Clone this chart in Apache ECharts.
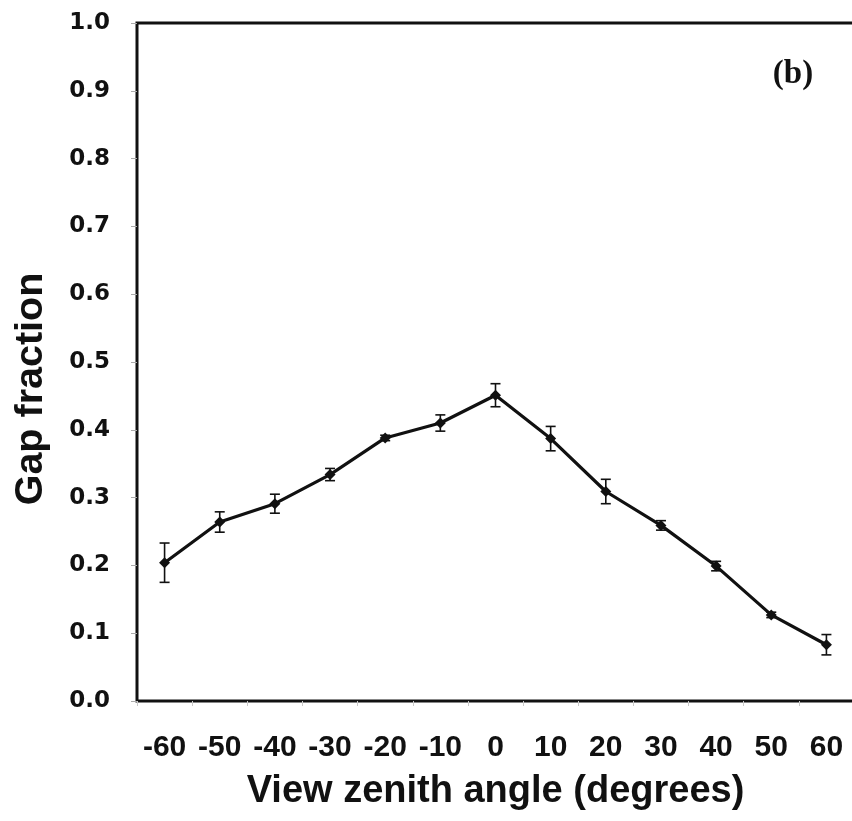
<!DOCTYPE html>
<html>
<head>
<meta charset="utf-8">
<script src="https://cdn.jsdelivr.net/npm/echarts@6/dist/echarts.min.js"></script>
<style>
  html, body { margin: 0; padding: 0; background: #fff; }
  #chart { width: 852px; height: 821px; }
</style>
</head>
<body>
<div id="chart"></div>
<script>
// View zenith angles (degrees)
const angles = [-60, -50, -40, -30, -20, -10, 0, 10, 20, 30, 40, 50, 60];
// Mean gap fraction at each angle
const gapFraction = [0.204, 0.264, 0.291, 0.334, 0.388, 0.410, 0.451, 0.387, 0.309, 0.259, 0.199, 0.127, 0.083];
// Half-length of the error bar at each angle
const gapError = [0.029, 0.015, 0.014, 0.009, 0.004, 0.012, 0.017, 0.018, 0.018, 0.007, 0.007, 0.004, 0.015];
// Y-axis tick values
const yTicks = [0.0, 0.1, 0.2, 0.3, 0.4, 0.5, 0.6, 0.7, 0.8, 0.9, 1.0];

const errorData = angles.map((a, i) => [i, gapFraction[i] - gapError[i], gapFraction[i] + gapError[i]]);

const chart = echarts.init(document.getElementById('chart'), null, { renderer: 'canvas' });

chart.setOption({
  animation: false,
  backgroundColor: '#fff',
  grid: {
    // the frame runs past the right edge of the canvas, so its right side is not drawn
    left: 137, top: 23, width: 717, height: 678,
    outerBoundsMode: 'none',
    containLabel: false,
    show: true, borderColor: '#111', borderWidth: 3, backgroundColor: 'transparent'
  },
  xAxis: {
    type: 'category',
    data: angles.map(String),
    boundaryGap: true,
    axisLine: { show: false },
    axisTick: { show: true, length: 5, lineStyle: { color: '#c8c8c8', width: 1 } },
    axisLabel: {
      interval: 0,
      hideOverlap: false,
      margin: 32,
      fontFamily: '"Liberation Sans", Arial, sans-serif',
      fontWeight: 'bold', fontSize: 30, color: '#111'
    },
    name: 'View zenith angle (degrees)',
    nameLocation: 'middle',
    nameGap: 72,
    nameTextStyle: {
      fontFamily: '"Liberation Sans", Arial, sans-serif',
      fontWeight: 'bold', fontSize: 38, color: '#111'
    },
    splitLine: { show: false }
  },
  yAxis: {
    type: 'value',
    min: yTicks[0], max: yTicks[yTicks.length - 1], interval: 0.1,
    axisLine: { show: false },
    axisTick: { show: true, length: 6, lineStyle: { color: '#aaa', width: 1 } },
    axisLabel: {
      margin: 27,
      formatter: v => v.toFixed(1),
      fontFamily: '"DejaVu Sans", sans-serif',
      fontWeight: 'bold', fontSize: 23, color: '#111'
    },
    splitLine: { show: false }
  },
  graphic: [
    {
      type: 'text', x: 31, y: 389, rotation: Math.PI / 2,
      style: {
        text: 'Gap fraction', align: 'center', verticalAlign: 'middle',
        font: 'bold 39.5px "Liberation Sans", Arial, sans-serif', fill: '#111'
      }
    },
    {
      type: 'text', x: 793, y: 74,
      style: {
        text: '(b)', align: 'center', verticalAlign: 'middle',
        font: 'bold 33px "Liberation Serif", "Times New Roman", serif', fill: '#111'
      }
    }
  ],
  series: [
    {
      type: 'custom',
      data: errorData,
      z: 3,
      renderItem: (params, api) => {
        const x = api.value(0);
        const lo = api.coord([x, api.value(1)]);
        const hi = api.coord([x, api.value(2)]);
        const half = 5;
        const style = { stroke: '#111', lineWidth: 1.6 };
        return {
          type: 'group',
          children: [
            { type: 'line', shape: { x1: lo[0], y1: lo[1], x2: hi[0], y2: hi[1] }, style },
            { type: 'line', shape: { x1: lo[0] - half, y1: lo[1], x2: lo[0] + half, y2: lo[1] }, style },
            { type: 'line', shape: { x1: hi[0] - half, y1: hi[1], x2: hi[0] + half, y2: hi[1] }, style }
          ]
        };
      }
    },
    {
      type: 'line',
      data: gapFraction,
      z: 4,
      symbol: 'diamond',
      symbolSize: 11,
      showSymbol: true,
      lineStyle: { color: '#111', width: 3.2 },
      itemStyle: { color: '#111' }
    }
  ]
});
</script>
</body>
</html>
